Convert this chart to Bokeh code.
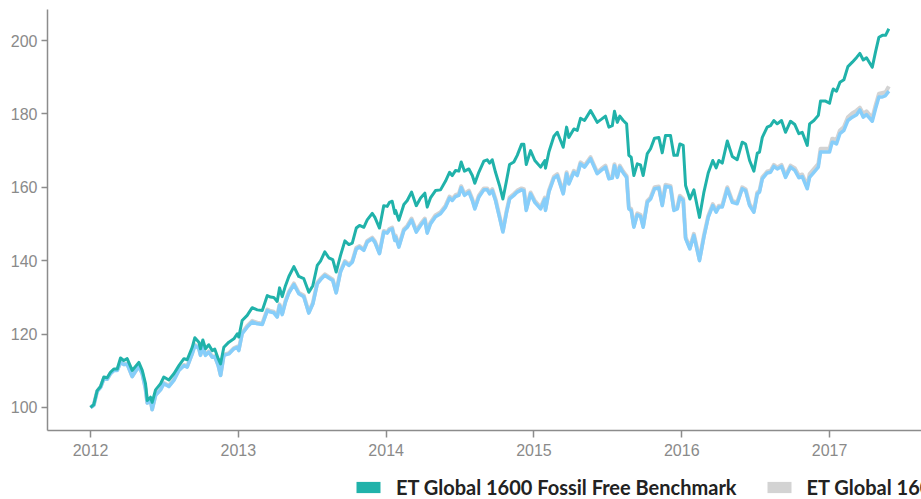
from bokeh.plotting import figure
from bokeh.layouts import column
from bokeh.models import Legend, LegendItem, FixedTicker, Range1d, ColumnDataSource
from bokeh.embed import file_html
from bokeh.resources import INLINE

NAN = float("nan")

# ---- x positions (decimal years), per year segment ----
years_2012 = [2012.000, 2012.022, 2012.045, 2012.068, 2012.090, 2012.113, 2012.135, 2012.158, 2012.181, 2012.203,
              2012.225, 2012.248, 2012.282, 2012.327, 2012.350, 2012.372, 2012.384, 2012.406, 2012.417, 2012.440,
              2012.474, 2012.496, 2012.530, 2012.564, 2012.598, 2012.632, 2012.654, 2012.688, 2012.706, 2012.733,
              2012.744, 2012.760, 2012.778, 2012.800, 2012.823, 2012.841, 2012.864, 2012.880, 2012.902, 2012.936,
              2012.970, 2012.993]
years_2013 = [2013.003, 2013.026, 2013.060, 2013.094, 2013.128, 2013.162, 2013.196, 2013.218, 2013.240, 2013.263,
              2013.279, 2013.297, 2013.319, 2013.342, 2013.376, 2013.409, 2013.443, 2013.477, 2013.504, 2013.534,
              2013.556, 2013.585, 2013.612, 2013.639, 2013.662, 2013.691, 2013.721, 2013.748, 2013.771, 2013.798,
              2013.820, 2013.849, 2013.872, 2013.906, 2013.924, 2013.955, 2013.984, 2014.007, 2014.023, 2014.041,
              2014.059]
years_2014 = [2014.064, 2014.086, 2014.120, 2014.143, 2014.172, 2014.204, 2014.233, 2014.262, 2014.278, 2014.300,
              2014.334, 2014.368, 2014.402, 2014.429, 2014.447, 2014.470, 2014.492, 2014.508, 2014.530, 2014.560,
              2014.583, 2014.600, 2014.627, 2014.661, 2014.684, 2014.700, 2014.718, 2014.740, 2014.767, 2014.790,
              2014.813, 2014.835, 2014.864, 2014.887, 2014.916, 2014.932, 2014.948, 2014.977, 2015.006, 2015.045,
              2015.074]
years_2015 = [2015.078, 2015.101, 2015.135, 2015.158, 2015.198, 2015.221, 2015.236, 2015.270, 2015.293, 2015.315,
              2015.342, 2015.383, 2015.428, 2015.455, 2015.484, 2015.507, 2015.530, 2015.545, 2015.564, 2015.581,
              2015.604, 2015.627, 2015.642, 2015.658, 2015.676, 2015.699, 2015.721, 2015.739, 2015.767, 2015.789,
              2015.816, 2015.845, 2015.868, 2015.890, 2015.924, 2015.947, 2015.970, 2015.987, 2016.010, 2016.026,
              2016.055]
years_2016 = [2016.082, 2016.120, 2016.150, 2016.179, 2016.210, 2016.233, 2016.251, 2016.274, 2016.308, 2016.342,
              2016.375, 2016.409, 2016.432, 2016.459, 2016.488, 2016.511, 2016.526, 2016.545, 2016.578, 2016.601,
              2016.623, 2016.646, 2016.675, 2016.702, 2016.736, 2016.765, 2016.792, 2016.815, 2016.849, 2016.865,
              2016.894, 2016.924, 2016.939, 2016.973, 2017.000, 2017.018]
years_2017 = [2017.025, 2017.047, 2017.070, 2017.097, 2017.124, 2017.154, 2017.183, 2017.205, 2017.228, 2017.250,
              2017.289, 2017.311, 2017.334, 2017.357, 2017.379, 2017.401]

# ---- ET Global 1600 Fossil Free Benchmark (teal) ----
fossil_free_2012 = [100.0, 100.8, 104.6, 105.7, 108.3, 108.1, 109.6, 110.5, 110.5, 113.5, 112.8, 113.3, 110.1, 112.3,
                    110.1, 106.5, 101.9, 102.8, 101.4, 104.8, 106.5, 108.3, 107.5, 109.2, 111.4, 113.3, 113.0, 116.4,
                    119.0, 117.8, 116.0, 118.4, 116.0, 117.1, 115.5, 115.9, 113.3, 111.9, 116.4, 117.8, 118.7, 120.1]
fossil_free_2013 = [119.2, 123.7, 125.1, 127.2, 126.6, 126.4, 130.5, 130.1, 130.0, 128.9, 132.6, 130.2, 133.2, 135.7,
                    138.4, 135.7, 135.1, 131.4, 133.2, 138.7, 139.9, 142.4, 140.8, 140.3, 136.9, 141.4, 145.4, 144.4,
                    144.8, 148.9, 149.6, 149.1, 151.1, 152.9, 151.8, 148.9, 155.0, 154.8, 155.9, 156.2, 152.9]
fossil_free_2014 = [153.7, 151.0, 155.3, 156.4, 158.7, 155.0, 157.1, 158.4, 154.6, 157.1, 159.1, 159.3, 161.7, 164.1,
                    163.2, 164.6, 164.4, 166.9, 164.4, 165.0, 163.2, 161.1, 164.1, 167.1, 167.5, 166.6, 167.5, 164.1,
                    160.5, 156.8, 161.5, 166.2, 166.9, 168.7, 171.7, 171.7, 166.2, 170.0, 167.3, 165.5, 167.3]
fossil_free_2015 = [165.2, 169.6, 173.9, 175.0, 170.9, 176.4, 173.6, 175.9, 175.5, 178.8, 178.2, 180.9, 177.7, 178.5,
                    179.4, 176.4, 176.8, 180.7, 177.7, 179.4, 178.2, 177.3, 168.7, 168.2, 163.2, 166.4, 166.1, 163.2,
                    169.2, 170.5, 173.4, 173.6, 169.4, 174.1, 174.1, 168.7, 168.7, 171.8, 171.4, 160.5, 156.8]
fossil_free_2016 = [159.3, 151.8, 158.7, 163.9, 167.3, 165.3, 167.3, 166.6, 172.6, 168.4, 167.5, 172.3, 171.8, 167.3,
                    164.4, 169.3, 169.6, 173.6, 176.4, 176.8, 178.2, 177.3, 178.2, 175.0, 178.0, 177.1, 174.6, 175.0,
                    171.4, 177.3, 178.2, 179.6, 183.5, 183.5, 182.9, 186.0]
fossil_free_2017 = [186.8, 186.2, 188.6, 189.3, 192.9, 194.1, 195.4, 196.5, 194.7, 195.3, 192.7, 196.9, 200.9, 201.4,
                    201.4, 203.2]

# ---- ET Global 1600 Benchmark (grey) ----
global_2012 = [100.0, 100.7, 104.5, 105.6, 107.9, 107.8, 109.3, 110.2, 110.2, 112.4, 111.8, 111.9, 108.5, 111.3,
               109.3, 105.2, 101.3, 102.0, 99.5, 103.4, 105.0, 106.7, 105.9, 107.6, 110.3, 111.6, 111.2, 114.8,
               117.1, 116.2, 114.4, 116.6, 114.4, 115.3, 113.9, 114.0, 111.6, 108.9, 114.4, 114.8, 116.2, 116.6]
global_2013 = [115.8, 120.4, 122.2, 123.6, 123.1, 122.9, 126.7, 126.3, 126.1, 124.9, 128.1, 125.6, 129.0, 131.5,
               133.8, 131.3, 130.5, 126.0, 128.5, 134.0, 135.1, 136.3, 135.6, 134.9, 131.5, 137.2, 139.9, 139.0,
               139.9, 143.5, 144.0, 143.1, 145.4, 146.3, 145.3, 142.2, 148.1, 147.8, 148.7, 149.0, 145.8]
global_2014 = [146.9, 144.1, 148.6, 149.5, 151.5, 148.2, 150.0, 151.5, 147.9, 150.4, 152.4, 153.2, 155.0, 157.5,
               156.8, 157.9, 158.2, 160.3, 158.2, 159.1, 156.8, 154.5, 157.7, 159.7, 159.7, 158.6, 159.5, 156.8,
               152.2, 148.2, 153.2, 157.2, 158.2, 159.1, 159.7, 159.5, 154.1, 158.6, 156.3, 154.5, 157.2]
global_2015 = [154.1, 159.1, 162.9, 163.6, 158.6, 164.1, 161.3, 164.5, 163.6, 166.8, 165.9, 168.2, 164.1, 165.0,
               165.9, 162.7, 162.9, 166.3, 163.1, 165.9, 164.3, 163.1, 154.5, 154.1, 149.5, 152.9, 152.5, 149.5,
               156.3, 157.2, 160.0, 160.2, 155.4, 160.7, 160.4, 154.1, 154.5, 157.7, 156.8, 146.4, 143.6]
global_2016 = [147.3, 140.4, 146.9, 152.2, 155.4, 153.6, 155.0, 155.0, 160.0, 156.3, 155.9, 160.0, 159.5, 155.4,
               153.6, 158.6, 159.1, 162.7, 164.3, 164.5, 166.1, 165.4, 166.1, 163.1, 165.9, 165.2, 163.2, 163.5,
               160.4, 163.6, 165.0, 166.4, 170.5, 170.5, 170.5, 173.2]
global_2017 = [173.2, 172.8, 175.5, 176.4, 179.1, 180.2, 180.9, 181.7, 180.0, 180.7, 178.9, 182.3, 185.5, 185.7,
               185.9, 187.5]

# ---- third benchmark (light blue) ----
third_2012 = [100.0, 100.6, 104.4, 105.5, 107.8, 107.7, 109.2, 110.1, 110.1, 112.3, 111.7, 111.8, 108.4, 111.2,
              109.2, 105.1, 101.2, 101.9, 99.4, 103.3, 104.8, 106.5, 105.7, 107.4, 110.1, 111.4, 111.0, 114.6,
              116.9, 116.0, 114.2, 116.4, 114.2, 115.1, 113.7, 113.8, 111.4, 108.7, 114.2, 114.6, 116.0, 116.4]
third_2013 = [115.5, 120.1, 121.9, 123.3, 122.8, 122.6, 126.4, 126.0, 125.8, 124.6, 127.8, 125.3, 128.7, 131.2,
              133.5, 131.0, 130.2, 125.7, 128.2, 133.7, 134.8, 136.0, 135.3, 134.6, 131.2, 136.9, 139.6, 138.7,
              139.6, 143.2, 143.7, 142.8, 145.1, 146.0, 145.0, 141.9, 147.8, 147.5, 148.4, 148.7, 145.5]
third_2014 = [146.5, 143.7, 148.2, 149.1, 151.1, 147.8, 149.6, 151.1, 147.5, 150.0, 152.0, 152.8, 154.6, 157.1,
              156.4, 157.5, 157.8, 159.9, 157.8, 158.7, 156.4, 154.1, 157.3, 159.3, 159.3, 158.2, 159.1, 156.4,
              151.8, 147.8, 152.8, 156.8, 157.8, 158.7, 159.3, 159.1, 153.7, 158.2, 155.9, 154.1, 156.8]
third_2015 = [153.7, 158.7, 162.5, 163.2, 158.2, 163.7, 160.9, 164.1, 163.2, 166.4, 165.5, 167.8, 163.7, 164.6,
              165.5, 162.3, 162.5, 165.9, 162.7, 165.5, 163.9, 162.7, 154.1, 153.7, 149.1, 152.5, 152.1, 149.1,
              155.9, 156.8, 159.6, 159.8, 155.0, 160.3, 160.0, 153.7, 154.1, 157.3, 156.4, 146.0, 143.2]
third_2016 = [146.9, 140.0, 146.5, 151.8, 155.0, 153.2, 154.6, 154.6, 159.6, 155.9, 155.5, 159.6, 159.1, 155.0,
              153.2, 158.2, 158.7, 162.3, 163.9, 164.1, 165.7, 165.0, 165.7, 162.7, 165.5, 164.6, 162.6, 162.9,
              159.6, 162.7, 164.1, 165.5, 169.6, 169.6, 169.6, 172.3]
third_2017 = [172.3, 171.8, 174.6, 175.5, 178.2, 179.1, 179.8, 181.1, 179.1, 179.8, 178.0, 181.4, 184.6, 184.6,
              185.0, 186.2]

year_ticks = [2012, 2013, 2014, 2015, 2016, 2017]
value_ticks = [100, 120, 140, 160, 180, 200]
labels = ["ET Global 1600 Fossil Free Benchmark", "ET Global 1600 Benchmark"]

years = years_2012 + years_2013 + years_2014 + years_2015 + years_2016 + years_2017
fossil_free = fossil_free_2012 + fossil_free_2013 + fossil_free_2014 + fossil_free_2015 + fossil_free_2016 + fossil_free_2017
global_idx = global_2012 + global_2013 + global_2014 + global_2015 + global_2016 + global_2017
third = third_2012 + third_2013 + third_2014 + third_2015 + third_2016 + third_2017

src = ColumnDataSource(dict(x=years, ff=fossil_free, gl=global_idx, th=third))

TEAL = "#20b2aa"
GREY = "#d3d3d3"
BLUE = "#87cefa"
AXIS = "#8c8c8c"

# ---------------- main chart ----------------
p = figure(width=921, height=462, output_backend="svg", toolbar_location=None,
           x_range=Range1d(2011.709, 2017.622), y_range=Range1d(93.73, 208.45),
           min_border_left=47, min_border_right=0, min_border_top=9, min_border_bottom=32)
p.outline_line_color = None
p.grid.visible = False

p.line("x", "gl", source=src, line_color=GREY, line_width=4, line_join="round")
p.line("x", "th", source=src, line_color=BLUE, line_width=3.5, line_join="round")
p.line("x", "ff", source=src, line_color=TEAL, line_width=3, line_join="round")

for ax in (p.xaxis[0], p.yaxis[0]):
    ax.axis_line_color = AXIS
    ax.axis_line_width = 1.5
    ax.major_tick_line_color = AXIS
    ax.major_tick_line_width = 1.5
    ax.major_tick_in = 0
    ax.major_tick_out = 7
    ax.minor_tick_line_color = None
    ax.major_label_text_color = "#8a8a8a"
    ax.major_label_text_font = "Liberation Sans"
    ax.major_label_text_font_size = "16px"

p.xaxis.ticker = FixedTicker(ticks=year_ticks)
p.yaxis.ticker = FixedTicker(ticks=value_ticks)
p.xaxis.major_label_standoff = 6
p.yaxis.major_label_standoff = 4
p.yaxis.major_tick_out = 6

# ---------------- legend strip ----------------
lg = figure(width=921, height=37, output_backend="svg", toolbar_location=None,
            x_range=Range1d(0, 1), y_range=Range1d(0, 1),
            min_border_left=0, min_border_right=0, min_border_top=0, min_border_bottom=0,
            x_axis_location=None, y_axis_location=None)
lg.outline_line_color = None
lg.grid.visible = False

# legend swatches (NaN data: nothing drawn in the strip, only the legend glyphs)
sw_src = ColumnDataSource(dict(l=[NAN], r=[NAN], t=[NAN], b=[NAN]))
sw_ff = lg.quad(left="l", right="r", top="t", bottom="b", source=sw_src, fill_color=TEAL, line_color=None)
sw_gl = lg.quad(left="l", right="r", top="t", bottom="b", source=sw_src, fill_color=GREY, line_color=None)

legend = Legend(items=[LegendItem(label=labels[0], renderers=[sw_ff]),
                       LegendItem(label=labels[1], renderers=[sw_gl])],
                orientation="horizontal", location=(306, 0),
                padding=0, margin=0, spacing=27, label_standoff=13,
                glyph_width=30, glyph_height=14,
                label_text_font="Lato", label_text_font_style="bold",
                label_text_font_size="20px", label_text_color="#222222",
                background_fill_alpha=0, border_line_alpha=0)
lg.add_layout(legend, "center")

layout = column(p, lg, spacing=0)
open("out.html", "w").write(file_html(layout, INLINE))
